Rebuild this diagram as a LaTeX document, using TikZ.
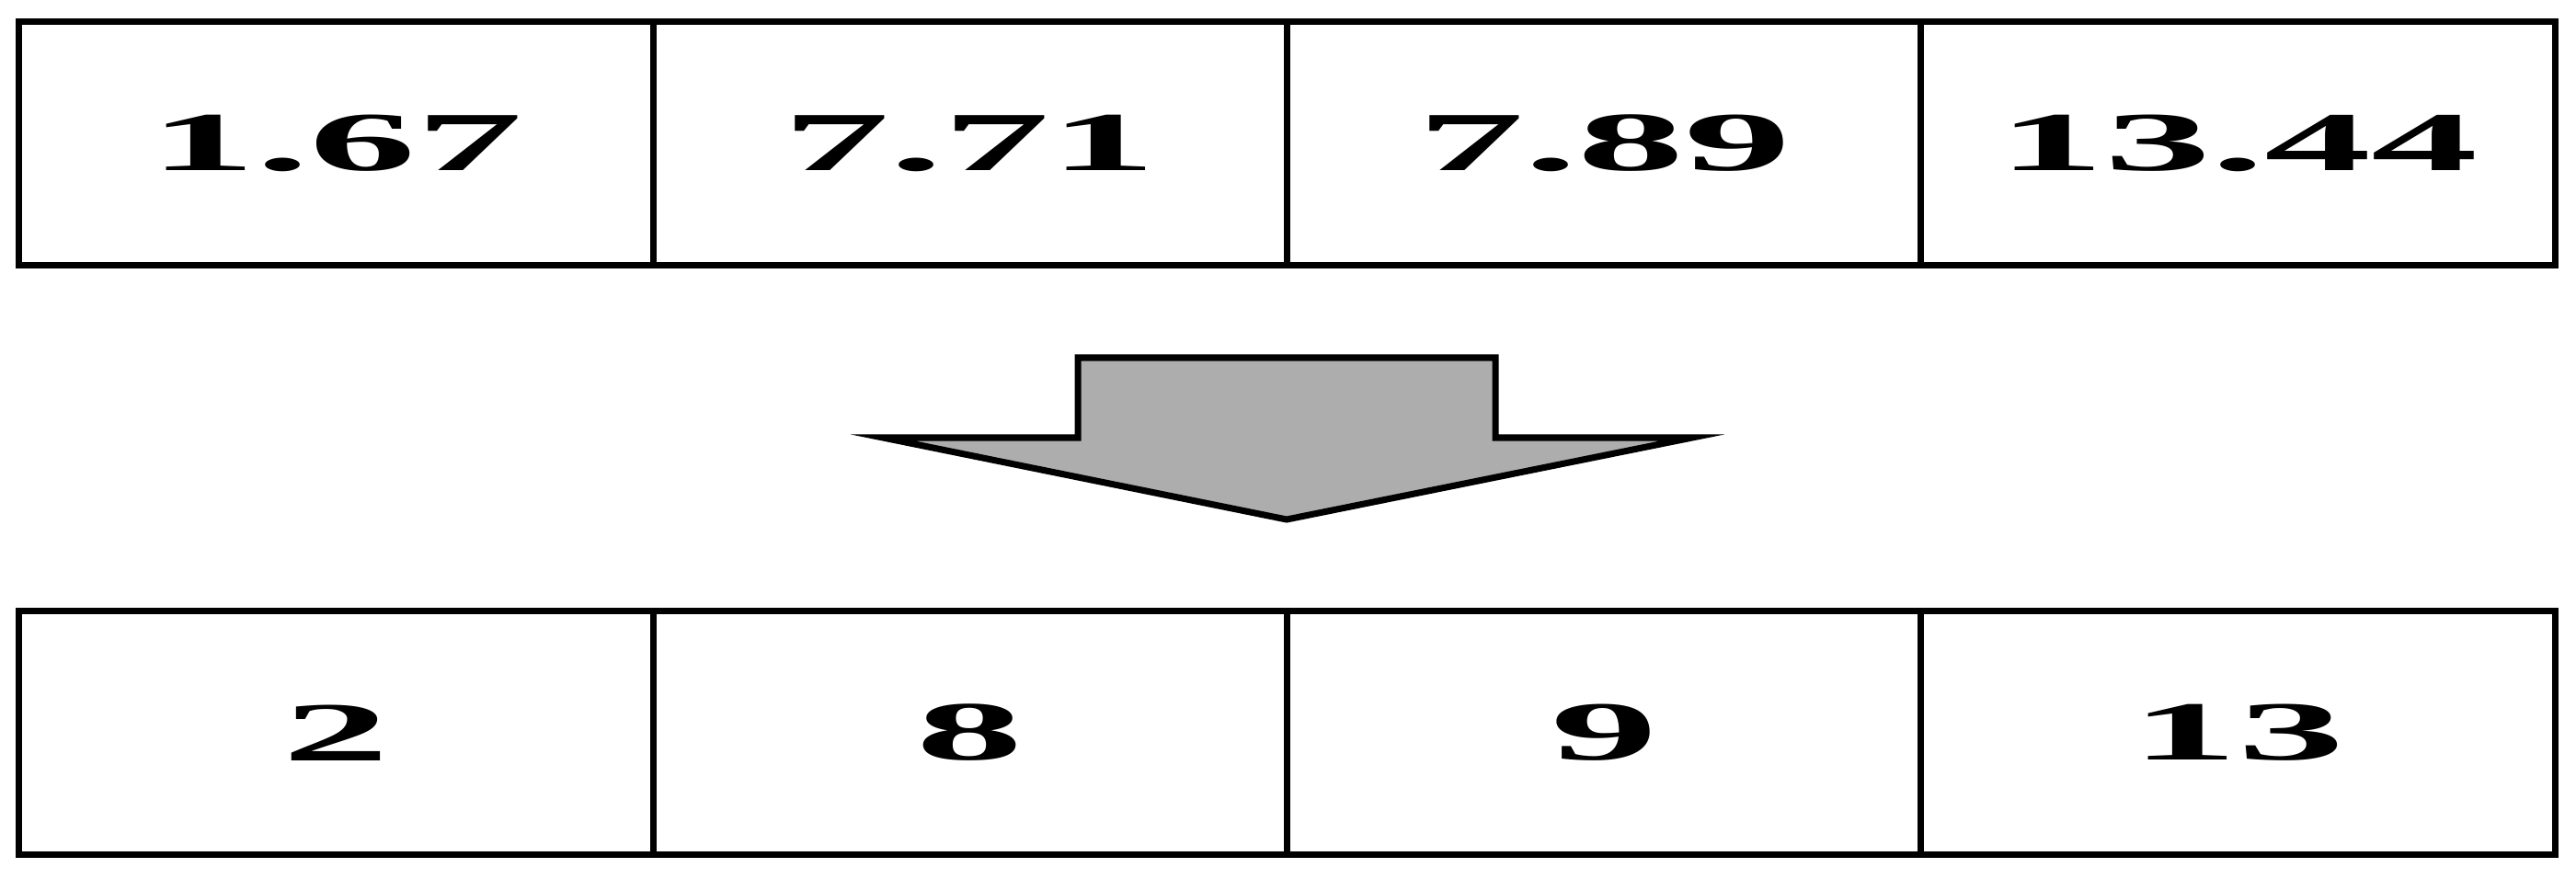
\documentclass[tikz,border=0pt]{standalone}
\usepackage{fontspec}
\setmainfont{Liberation Serif}
\usetikzlibrary{positioning}

\definecolor{arrowgray}{RGB}{173,173,173}
\newcommand{\widenum}[1]{\scalebox{2.54}[1]{#1}}

\tikzset{
    cell/.style={draw, line width=2pt, rectangle, outer sep=0pt,
        minimum width=6.8925cm, minimum height=2.65cm,
        font=\fontsize{26}{26}\selectfont\bfseries},
}

\begin{document}
\begin{tikzpicture}[node distance=0cm]
    \useasboundingbox (0, 0) rectangle (28.01, 9.55);

    % Values before rounding
    \node[cell] (t1) at (3.656, 7.99) {\widenum{1.67}};
    \node[cell, right=of t1] (t2) {\widenum{7.71}};
    \node[cell, right=of t2] (t3) {\widenum{7.89}};
    \node[cell, right=of t3] (t4) {\widenum{13.44}};

    % Rounded values
    \node[cell] (b1) at (3.656, 1.58) {\widenum{2}};
    \node[cell, right=of b1] (b2) {\widenum{8}};
    \node[cell, right=of b2] (b3) {\widenum{9}};
    \node[cell, right=of b3] (b4) {\widenum{13}};

    % Block arrow
    \draw[line width=2pt, fill=arrowgray, miter limit=20]
        (11.72, 5.66) -- (16.26, 5.66) -- (16.26, 4.79) -- (18.40, 4.79)
        -- (13.99, 3.90) -- (9.60, 4.79) -- (11.72, 4.79) -- cycle;
\end{tikzpicture}
\end{document}
